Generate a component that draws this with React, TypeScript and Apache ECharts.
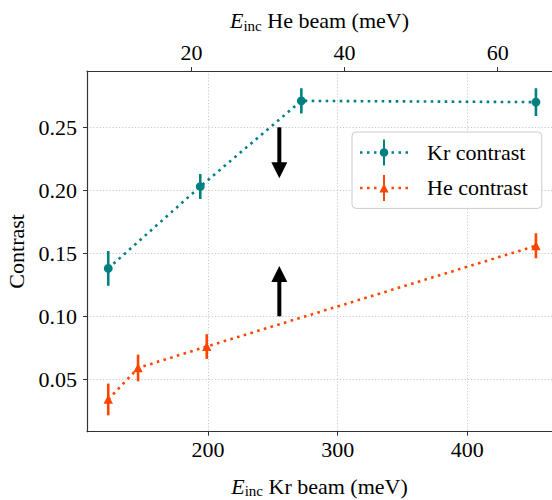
import React, { useEffect, useRef } from "react";
import * as echarts from "echarts";

// ---- data ----
const krEnergy = [123, 194, 272, 453];
const krContrast = [0.138, 0.203, 0.271, 0.27];
const krError = [0.0138, 0.0099, 0.01, 0.011];
const heEnergy = [123, 146, 199, 453];
const heContrast = [0.034, 0.059, 0.076, 0.156];
const heError = [0.0126, 0.0106, 0.0098, 0.0099];
const krTicks = [200, 300, 400];
const heTicks = [20, 40, 60];
const contrastTicks = [0.05, 0.1, 0.15, 0.2, 0.25];
const arrowX = [255, 255];
const arrowFrom = [0.25, 0.1];
const arrowTo = [0.2095, 0.14];

const FONT = '"Liberation Serif", "Times New Roman", serif';
const KR = "#008080";
const HE = "#ff4500";
const AXIS = "#333333";
const GRIDC = "#c8c8c8";

const dots = "M0 11.75h2.5v2.5h-2.5Z M7 11.75h2.5v2.5h-2.5Z M14 11.75h2.5v2.5h-2.5Z M31.5 11.75h2.5v2.5h-2.5Z M38.5 11.75h2.5v2.5h-2.5Z M45.5 11.75h2.5v2.5h-2.5Z M23 0h2v26h-2Z ";
const krIcon = "path://" + dots + "M19.7 13A4.3 4.3 0 1 1 28.3 13A4.3 4.3 0 1 1 19.7 13Z";
const heIcon = "path://" + dots + "M24 8.5L28.6 17.5L19.4 17.5Z";

function pointSeries(name: string, xs: number[], ys: number[], es: number[], color: string, marker: "circle" | "triangle") {
  return {
    type: "custom",
    name,
    xAxisIndex: 0,
    yAxisIndex: 0,
    z: 5,
    itemStyle: { color },
    encode: { x: 0, y: 1 },
    data: xs.map((x, i) => [x, ys[i], es[i]]),
    renderItem: (params: any, api: any) => {
      const x = api.value(0);
      const y = api.value(1);
      const e = api.value(2);
      const p = api.coord([x, y]);
      const top = api.coord([x, y + e]);
      const bot = api.coord([x, y - e]);
      const r = 4.4;
      const mk =
        marker === "circle"
          ? { type: "circle", shape: { cx: p[0], cy: p[1], r }, style: { fill: color } }
          : {
              type: "polygon",
              shape: { points: [[p[0], p[1] - r - 0.3], [p[0] + r + 0.3, p[1] + r], [p[0] - r - 0.3, p[1] + r]] },
              style: { fill: color },
            };
      return {
        type: "group",
        children: [
          { type: "line", shape: { x1: p[0], y1: top[1], x2: p[0], y2: bot[1] }, style: { stroke: color, lineWidth: 2.6 } },
          mk,
        ],
      };
    },
  };
}

function lineSeries(name: string, xs: number[], ys: number[], color: string) {
  return {
    type: "line",
    name,
    z: 3,
    silent: true,
    symbol: "none",
    showSymbol: false,
    data: xs.map((x, i) => [x, ys[i]]),
    lineStyle: { color, width: 2.6, type: [2.6, 4.4], cap: "butt" },
  };
}

export default function App() {
  const ref = useRef<HTMLDivElement>(null);
  useEffect(() => {
    if (!ref.current) return;
    const chart = echarts.init(ref.current, undefined, { renderer: "svg" });
    const titleRich = {
      i: { fontFamily: FONT, fontStyle: "italic", fontSize: 22, color: "#000" },
      s: { fontFamily: FONT, fontSize: 15, color: "#000", verticalAlign: "bottom", padding: [10, 0, 0, 0] },
      t: { fontFamily: FONT, fontSize: 22, color: "#000" },
    };
    const option: any = {
      animation: false,
      textStyle: { fontFamily: FONT },
      grid: { left: 87, right: 0, top: 71, bottom: 68.3, containLabel: false, outerBoundsMode: "none" },
      legend: {
        orient: "vertical",
        left: 352,
        top: 132,
        itemWidth: 48,
        itemHeight: 26,
        itemGap: 9.4,
        padding: [7.5, 14, 7.5, 8],
        backgroundColor: "rgba(255,255,255,0.85)",
        borderColor: "#cccccc",
        borderWidth: 1,
        borderRadius: 4,
        selectedMode: false,
        textStyle: { fontFamily: FONT, fontSize: 22, color: "#000", padding: [0, 0, 0, 14] },
        data: [
          { name: "Kr contrast", icon: krIcon },
          { name: "He contrast", icon: heIcon },
        ],
      },
      xAxis: [
        {
          type: "value",
          position: "bottom",
          min: 106.6,
          max: 465.4,
          axisLine: { show: true, onZero: false, lineStyle: { color: AXIS, width: 1.2 } },
          axisTick: { show: true, length: 4, customValues: krTicks, lineStyle: { color: AXIS, width: 1 } },
          axisLabel: { customValues: krTicks, margin: 7, fontSize: 22, color: "#000", fontFamily: FONT },
          splitLine: { show: true, lineStyle: { color: GRIDC, width: 1, type: [1.2, 2] } },
          name: "{i|E}{s|inc}{t| Kr beam (meV)}",
          nameLocation: "middle",
          nameGap: 42,
          nameTextStyle: { fontFamily: FONT, fontSize: 22, color: "#000", rich: titleRich },
        },
        {
          type: "value",
          position: "top",
          min: 6.35,
          max: 67.1,
          axisLine: { show: true, onZero: false, lineStyle: { color: AXIS, width: 1.2 } },
          axisTick: { show: true, length: 4, customValues: heTicks, lineStyle: { color: AXIS, width: 1 } },
          axisLabel: { customValues: heTicks, margin: 8, fontSize: 22, color: "#000", fontFamily: FONT },
          splitLine: { show: false },
          name: "{i|E}{s|inc}{t| He beam (meV)}",
          nameLocation: "middle",
          nameGap: 38,
          nameTextStyle: { fontFamily: FONT, fontSize: 22, color: "#000", rich: titleRich },
        },
      ],
      yAxis: {
        type: "value",
        min: 0.0084,
        max: 0.2947,
        axisLine: { show: true, onZero: false, lineStyle: { color: AXIS, width: 1.2 } },
        axisTick: { show: true, length: 4, customValues: contrastTicks, lineStyle: { color: AXIS, width: 1 } },
        axisLabel: {
          customValues: contrastTicks,
          margin: 10,
          fontSize: 22,
          color: "#000",
          fontFamily: FONT,
          formatter: (v: number) => v.toFixed(2),
        },
        splitLine: { show: true, lineStyle: { color: GRIDC, width: 1, type: [1.2, 2] } },
        name: "Contrast",
        nameLocation: "middle",
        nameGap: 57,
        nameTextStyle: { fontFamily: FONT, fontSize: 22, color: "#000" },
      },
      series: [
        lineSeries("Kr line", krEnergy, krContrast, KR),
        lineSeries("He line", heEnergy, heContrast, HE),
        pointSeries("Kr contrast", krEnergy, krContrast, krError, KR, "circle"),
        pointSeries("He contrast", heEnergy, heContrast, heError, HE, "triangle"),
        {
          type: "custom",
          name: "arrows",
          z: 4,
          silent: true,
          encode: { x: 0, y: [1, 2] },
          data: arrowX.map((x, i) => [x, arrowFrom[i], arrowTo[i]]),
          renderItem: (params: any, api: any) => {
            const s = api.coord([api.value(0), api.value(1)]);
            const t = api.coord([api.value(0), api.value(2)]);
            const dir = Math.sign(t[1] - s[1]);
            const headLen = 16;
            const half = 8;
            const baseY = t[1] - dir * headLen;
            return {
              type: "group",
              children: [
                { type: "line", shape: { x1: s[0], y1: s[1], x2: s[0], y2: baseY + dir * 1 }, style: { stroke: "#000", lineWidth: 4 } },
                { type: "polygon", shape: { points: [[t[0] - half, baseY], [t[0] + half, baseY], [t[0], t[1]]] }, style: { fill: "#000" } },
              ],
            };
          },
        },
      ],
    };
    chart.setOption(option);
    return () => chart.dispose();
  }, []);
  return <div ref={ref} style={{ position: "absolute", left: 0, top: 0, width: 552, height: 500 }} />;
}
